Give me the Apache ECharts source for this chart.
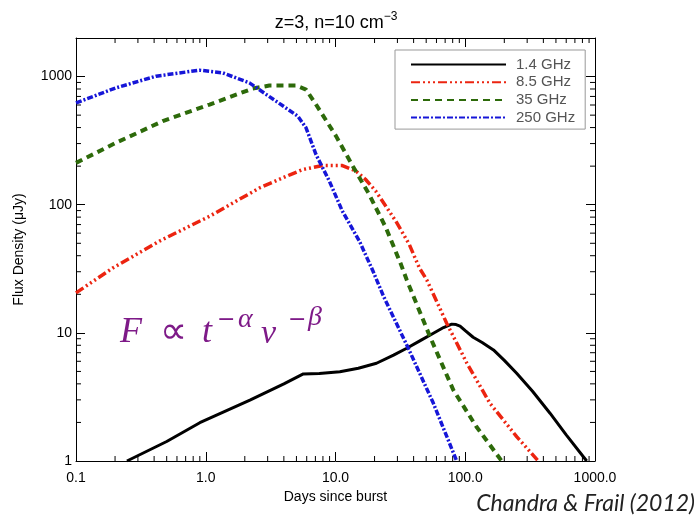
<!DOCTYPE html>
<html><head><meta charset="utf-8">
<script src="https://cdn.jsdelivr.net/npm/echarts@6/dist/echarts.min.js"></script>
<style>html,body{margin:0;padding:0;background:#fff}#c{width:698px;height:520px}</style>
</head><body><div id="c"></div>
<script>
const seriesNames = ['1.4 GHz', '8.5 GHz', '35 GHz', '250 GHz'];
const flux1p4 = [[0.247,1.0],[0.5,1.42],[0.9,1.99],[2.19,2.99],[4.0,4.0],[5.65,4.78],[7.5,4.82],[10.8,4.98],[15,5.3],[20.7,5.79],[28,6.7],[35.4,7.58],[45,8.7],[56.8,9.93],[68,11.0],[78.7,11.7],[85,11.6],[91.2,11.3],[100,10.4],[115,9.24],[135,8.4],[165,7.36],[200,6.1],[249,4.84],[330,3.5],[450,2.36],[600,1.6],[863,1.0]];
const flux8p5 = [[0.1,20.5],[0.192,32.1],[0.438,51.9],[1.07,81.3],[2.59,135],[4.5,172],[5.58,188],[7.96,202],[11.3,202],[14.4,183],[17,158],[20.5,127],[29.2,74.3],[37.1,48.8],[44.3,32.1],[50.5,25.9],[71.9,11.9],[103,5.79],[155,2.82],[249,1.55],[366,1.0]];
const flux35 = [[0.1,212],[0.203,304],[0.466,449],[1.07,605],[2.30,806],[3.09,851],[4.97,851],[5.93,792],[7.08,605],[10.1,343],[13.6,200],[18.2,120],[24.5,65.9],[32,34.1],[35.4,25.9],[53.5,9.34],[80.9,3.58],[122,1.85],[191,1.0]];
const flux250 = [[0.1,623],[0.203,816],[0.414,1007],[0.892,1122],[1.35,1069],[2.17,893],[3.48,643],[5.12,491],[5.93,398],[7.08,246],[8.96,153],[11.3,89],[15.3,51.9],[19.4,30.5],[23.5,19.2],[36.4,7.58],[56.8,2.82],[85.9,1.0]];
const xTickValues = [0.1, 1, 10, 100, 1000];
const xTickLabels = ['0.1', '1.0', '10.0', '100.0', '1000.0'];
const yTickValues = [1, 10, 100, 1000];
const yTickLabels = ['1', '10', '100', '1000'];
const xMinorTicks = [0.2,0.3,0.4,0.5,0.6,0.7,0.8,0.9,2,3,4,5,6,7,8,9,20,30,40,50,60,70,80,90,200,300,400,500,600,700,800,900];
const yMinorTicks = [2,3,4,5,6,7,8,9,20,30,40,50,60,70,80,90,200,300,400,500,600,700,800,900];
const xRange = [0.1, 1000];
const yRange = [1, 2000];

function labelFor(values, labels) {
  return function (v) {
    const i = values.findIndex(t => Math.abs(Math.log10(v) - Math.log10(t)) < 1e-6);
    return i >= 0 ? labels[i] : '';
  };
}
const axisFont = 'Liberation Sans, Arial, sans-serif';
const tickStyle = { show: true, inside: true, length: 9, lineStyle: { color: '#000', width: 1 } };
const lineAxis = { show: true, lineStyle: { color: '#000', width: 1 } };
const mathColor = '#7e1a88';
const serifI = (s) => 'italic ' + s + 'px "Liberation Serif", serif';

const chart = echarts.init(document.getElementById('c'), null, { renderer: 'canvas' });
chart.setOption({
  animation: false,
  backgroundColor: '#fff',
  grid: { left: 76, top: 38, width: 519, height: 423, containLabel: false },
  xAxis: [
    { type: 'log', logBase: 10, min: xRange[0], max: xRange[1], position: 'bottom',
      axisLine: lineAxis, axisTick: tickStyle, splitLine: { show: false },
      axisLabel: { margin: 10, fontSize: 14, color: '#000', fontFamily: axisFont, formatter: labelFor(xTickValues, xTickLabels) },
      name: 'Days since burst', nameLocation: 'middle', nameGap: 25,
      nameTextStyle: { fontSize: 14, color: '#000', fontFamily: axisFont } },
    { type: 'log', logBase: 10, min: xRange[0], max: xRange[1], position: 'top',
      axisLine: lineAxis, axisTick: tickStyle, splitLine: { show: false }, axisLabel: { show: false } }
  ],
  yAxis: [
    { type: 'log', logBase: 10, min: yRange[0], max: yRange[1], position: 'left',
      axisLine: lineAxis, axisTick: tickStyle, splitLine: { show: false },
      axisLabel: { margin: 4, fontSize: 14, color: '#000', fontFamily: axisFont, formatter: labelFor(yTickValues, yTickLabels) },
      name: 'Flux Density (\u03bcJy)', nameLocation: 'middle', nameGap: 50,
      nameTextStyle: { fontSize: 14, color: '#000', fontFamily: axisFont } },
    { type: 'log', logBase: 10, min: yRange[0], max: yRange[1], position: 'right',
      axisLine: lineAxis, axisTick: tickStyle, splitLine: { show: false }, axisLabel: { show: false } }
  ],
  legend: {
    data: seriesNames, orient: 'vertical', left: 395, top: 50,
    padding: [7, 10, 4, 15], itemWidth: 95, itemHeight: 12, itemGap: 2.7,
    borderColor: '#999', borderWidth: 1, backgroundColor: '#fff',
    lineStyle: { width: 2 },
    itemStyle: { opacity: 0 },
    textStyle: { fontSize: 15, color: '#555', fontFamily: axisFont, lineHeight: 12, padding: [0, 0, 0, 5] }
  },
  graphic: [
    { type: 'text', x: 336, y: 11, style: { text: '{a|z=3, n=10 cm}{b|\u22123}', align: 'center',
      rich: { a: { fontSize: 18, fontFamily: axisFont, fill: '#000', lineHeight: 21, verticalAlign: 'bottom' },
              b: { fontSize: 12, fontFamily: axisFont, fill: '#000', lineHeight: 12, verticalAlign: 'top' } } } },
    { type: 'text', x: 120, y: 333, style: { text: 'F', font: serifI(36), fill: mathColor, verticalAlign: 'middle' } },
    { type: 'text', x: 160, y: 333, style: { text: '\u221d', font: '38px "DejaVu Sans", sans-serif', fill: mathColor, verticalAlign: 'middle' } },
    { type: 'text', x: 202, y: 333, style: { text: 't', font: serifI(36), fill: mathColor, verticalAlign: 'middle' } },
    { type: 'text', x: 217, y: 320, style: { text: '\u2212', font: '22px "DejaVu Sans", sans-serif', fill: mathColor, verticalAlign: 'middle' } },
    { type: 'text', x: 238, y: 320, style: { text: '\u03b1', font: serifI(28), fill: mathColor, verticalAlign: 'middle' } },
    { type: 'text', x: 261, y: 334, style: { text: '\u03bd', font: serifI(34), fill: mathColor, verticalAlign: 'middle' } },
    { type: 'text', x: 288, y: 320, style: { text: '\u2212', font: '22px "DejaVu Sans", sans-serif', fill: mathColor, verticalAlign: 'middle' } },
    { type: 'text', x: 308, y: 318, style: { text: '\u03b2', font: serifI(28), fill: mathColor, verticalAlign: 'middle' } },
    { type: 'text', right: 3, top: 492, style: { text: 'Chandra & Frail (2012)', font: 'italic 23px Lato, "Open Sans", sans-serif', fill: '#222' } }
  ],
  series: [
    { name: seriesNames[0], type: 'line', data: flux1p4, symbol: 'none', lineStyle: { color: '#000', width: 3 }, itemStyle: { color: '#000' } },
    { name: seriesNames[1], type: 'line', data: flux8p5, symbol: 'none', lineStyle: { color: '#ec2410', width: 3.5, type: [9, 3, 2, 3, 2, 3, 2, 3] }, itemStyle: { color: '#ec2410' } },
    { name: seriesNames[2], type: 'line', data: flux35, symbol: 'none', lineStyle: { color: '#2d6a0a', width: 4, type: [7, 5] }, itemStyle: { color: '#2d6a0a' } },
    { name: seriesNames[3], type: 'line', data: flux250, symbol: 'none', lineStyle: { color: '#1616d8', width: 3.5, type: [6, 2, 2, 2] }, itemStyle: { color: '#1616d8' } },
    { type: 'custom', silent: true, xAxisIndex: 0, yAxisIndex: 0, data: xMinorTicks.map(v => [v, yRange[0]]),
      renderItem: function (params, api) {
        const x = api.coord([api.value(0), yRange[0]])[0];
        const cs = params.coordSys;
        const st = { stroke: '#000', lineWidth: 1 };
        return { type: 'group', children: [
          { type: 'line', shape: { x1: x, y1: cs.y + cs.height, x2: x, y2: cs.y + cs.height - 5 }, style: st },
          { type: 'line', shape: { x1: x, y1: cs.y, x2: x, y2: cs.y + 5 }, style: st } ] };
      } },
    { type: 'custom', silent: true, xAxisIndex: 0, yAxisIndex: 0, data: yMinorTicks.map(v => [xRange[0], v]),
      renderItem: function (params, api) {
        const y = api.coord([xRange[0], api.value(1)])[1];
        const cs = params.coordSys;
        const st = { stroke: '#000', lineWidth: 1 };
        return { type: 'group', children: [
          { type: 'line', shape: { x1: cs.x, y1: y, x2: cs.x + 5, y2: y }, style: st },
          { type: 'line', shape: { x1: cs.x + cs.width, y1: y, x2: cs.x + cs.width - 5, y2: y }, style: st } ] };
      } }
  ]
});
</script></body></html>
